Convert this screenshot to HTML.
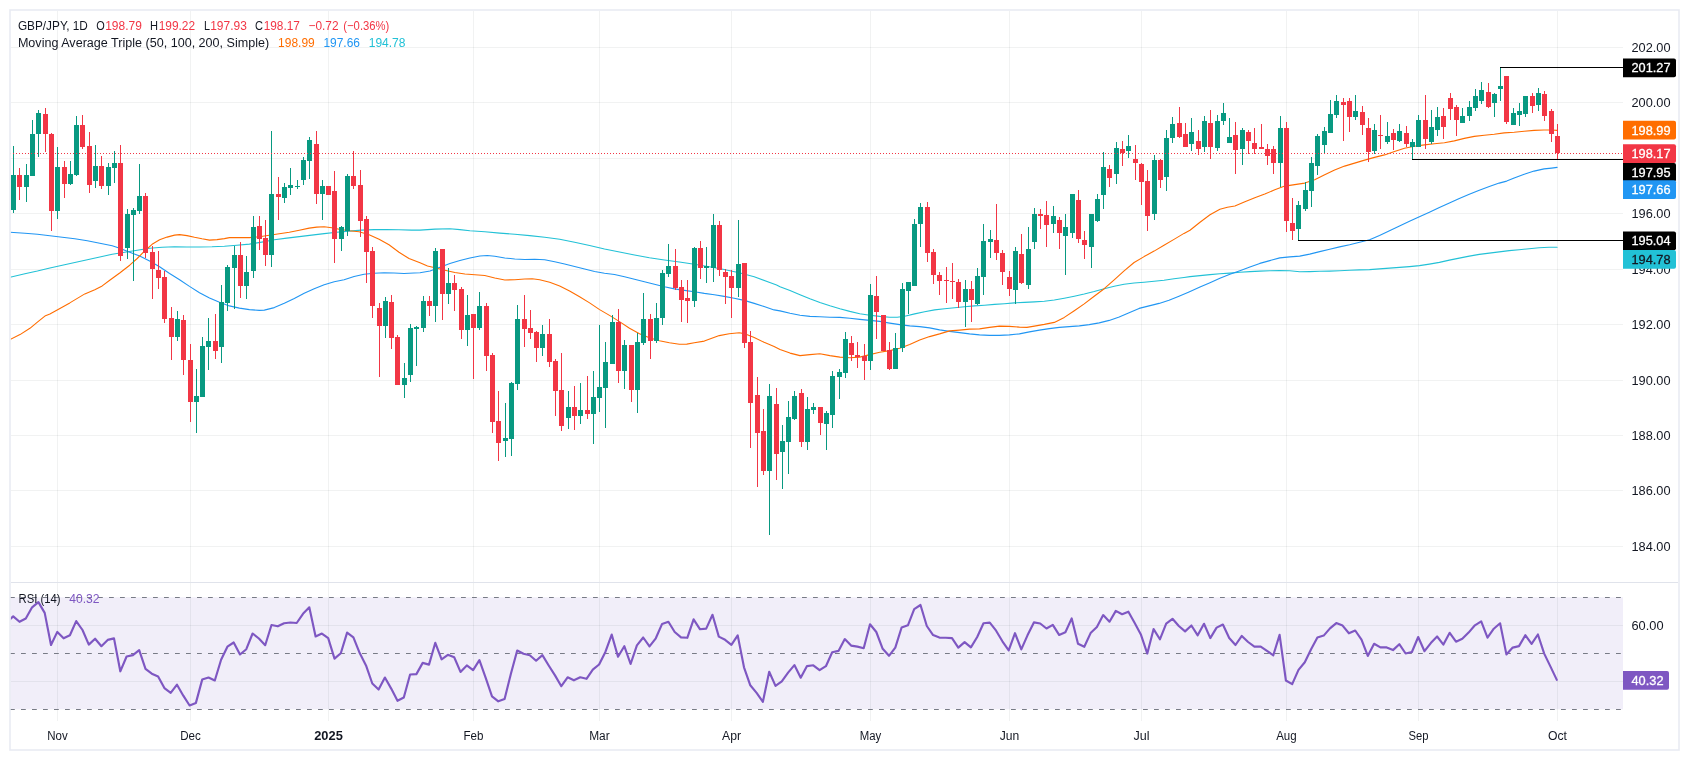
<!DOCTYPE html>
<html><head><meta charset="utf-8"><title>GBP/JPY</title>
<style>html,body{margin:0;padding:0;background:#fff;overflow:hidden}body{width:1689px;height:762px;font-family:"Liberation Sans",sans-serif}</style>
</head><body>
<svg width="1689" height="762" viewBox="0 0 1689 762" style="display:block;will-change:transform">
<rect x="0" y="0" width="1689" height="762" fill="#ffffff"/>
<rect x="10.5" y="597.3" width="1612.5" height="112.0" fill="#f1eef9"/>
<line x1="57.5" y1="11" x2="57.5" y2="721" stroke="#2a3639" stroke-opacity="0.065" stroke-width="1"/>
<line x1="190.5" y1="11" x2="190.5" y2="721" stroke="#2a3639" stroke-opacity="0.065" stroke-width="1"/>
<line x1="328.5" y1="11" x2="328.5" y2="721" stroke="#2a3639" stroke-opacity="0.065" stroke-width="1"/>
<line x1="473.5" y1="11" x2="473.5" y2="721" stroke="#2a3639" stroke-opacity="0.065" stroke-width="1"/>
<line x1="599.5" y1="11" x2="599.5" y2="721" stroke="#2a3639" stroke-opacity="0.065" stroke-width="1"/>
<line x1="731.5" y1="11" x2="731.5" y2="721" stroke="#2a3639" stroke-opacity="0.065" stroke-width="1"/>
<line x1="870.5" y1="11" x2="870.5" y2="721" stroke="#2a3639" stroke-opacity="0.065" stroke-width="1"/>
<line x1="1009.5" y1="11" x2="1009.5" y2="721" stroke="#2a3639" stroke-opacity="0.065" stroke-width="1"/>
<line x1="1141.5" y1="11" x2="1141.5" y2="721" stroke="#2a3639" stroke-opacity="0.065" stroke-width="1"/>
<line x1="1286.5" y1="11" x2="1286.5" y2="721" stroke="#2a3639" stroke-opacity="0.065" stroke-width="1"/>
<line x1="1418.5" y1="11" x2="1418.5" y2="721" stroke="#2a3639" stroke-opacity="0.065" stroke-width="1"/>
<line x1="1557.5" y1="11" x2="1557.5" y2="721" stroke="#2a3639" stroke-opacity="0.065" stroke-width="1"/>
<line x1="11" y1="546.5" x2="1623" y2="546.5" stroke="#2a3639" stroke-opacity="0.065" stroke-width="1"/>
<line x1="11" y1="490.5" x2="1623" y2="490.5" stroke="#2a3639" stroke-opacity="0.065" stroke-width="1"/>
<line x1="11" y1="435.5" x2="1623" y2="435.5" stroke="#2a3639" stroke-opacity="0.065" stroke-width="1"/>
<line x1="11" y1="380.5" x2="1623" y2="380.5" stroke="#2a3639" stroke-opacity="0.065" stroke-width="1"/>
<line x1="11" y1="324.5" x2="1623" y2="324.5" stroke="#2a3639" stroke-opacity="0.065" stroke-width="1"/>
<line x1="11" y1="269.5" x2="1623" y2="269.5" stroke="#2a3639" stroke-opacity="0.065" stroke-width="1"/>
<line x1="11" y1="213.5" x2="1623" y2="213.5" stroke="#2a3639" stroke-opacity="0.065" stroke-width="1"/>
<line x1="11" y1="158.5" x2="1623" y2="158.5" stroke="#2a3639" stroke-opacity="0.065" stroke-width="1"/>
<line x1="11" y1="102.5" x2="1623" y2="102.5" stroke="#2a3639" stroke-opacity="0.065" stroke-width="1"/>
<line x1="11" y1="47.5" x2="1623" y2="47.5" stroke="#2a3639" stroke-opacity="0.065" stroke-width="1"/>
<line x1="11" y1="681.5" x2="1623" y2="681.5" stroke="#2a3639" stroke-opacity="0.065" stroke-width="1"/>
<line x1="11" y1="625.5" x2="1623" y2="625.5" stroke="#2a3639" stroke-opacity="0.065" stroke-width="1"/>
<line x1="11" y1="582.5" x2="1678" y2="582.5" stroke="#e0e3eb" stroke-width="1"/>
<line x1="10" y1="597.5" x2="1623" y2="597.5" stroke="#787b86" stroke-width="1" stroke-dasharray="4.8 6.2"/>
<line x1="10" y1="653.5" x2="1623" y2="653.5" stroke="#787b86" stroke-width="1" stroke-dasharray="4.8 6.2"/>
<line x1="10" y1="709.5" x2="1623" y2="709.5" stroke="#787b86" stroke-width="1" stroke-dasharray="4.8 6.2"/>
<defs><clipPath id="pc"><rect x="10.5" y="10.5" width="1612.5" height="571.5"/></clipPath><clipPath id="rc"><rect x="10.5" y="583" width="1612.5" height="138"/></clipPath></defs>
<g clip-path="url(#pc)">
<path d="M10.0 277.2 L24.9 273.7 L37.4 271.0 L49.9 268.0 L62.3 265.2 L74.8 262.5 L87.3 259.8 L99.8 257.0 L112.2 254.3 L124.7 252.3 L137.2 250.3 L149.6 248.3 L162.1 247.3 L174.6 246.8 L187.0 247.0 L199.5 247.0 L212.0 246.8 L224.4 246.3 L236.9 245.3 L249.4 244.1 L261.8 242.1 L274.3 239.8 L286.8 238.1 L299.3 236.6 L311.7 235.1 L324.2 233.6 L336.7 232.3 L349.1 231.1 L361.6 230.1 L374.1 229.6 L386.5 229.6 L399.0 229.8 L411.5 230.1 L420.0 230.1 L435.0 229.1 L449.9 228.8 L459.9 229.6 L469.9 230.8 L484.8 231.8 L499.8 233.1 L514.8 234.3 L529.7 235.6 L544.7 237.3 L559.7 239.3 L574.6 242.3 L589.6 245.5 L604.5 249.0 L619.5 252.0 L634.5 255.0 L649.4 257.8 L664.4 260.0 L679.4 262.0 L694.3 264.3 L709.3 266.7 L724.2 269.5 L739.2 272.7 L754.2 276.7 L769.1 282.2 L776.6 285.0 L780.0 286.7 L790.0 290.5 L800.0 294.7 L809.9 298.7 L819.9 302.4 L829.9 305.7 L839.9 308.7 L849.8 311.4 L859.8 313.7 L869.8 315.2 L879.8 316.4 L889.7 317.2 L897.2 317.2 L904.7 316.2 L914.7 313.9 L924.6 311.7 L934.6 309.9 L944.6 308.7 L954.6 307.7 L964.5 306.7 L974.5 305.9 L984.5 305.2 L994.5 304.4 L1004.4 303.7 L1014.4 302.9 L1024.4 302.4 L1034.4 301.9 L1044.3 301.2 L1054.3 300.0 L1064.3 298.2 L1074.3 296.2 L1084.2 294.0 L1094.2 291.5 L1104.2 288.7 L1114.2 286.2 L1124.1 284.2 L1134.1 283.0 L1144.1 282.2 L1154.1 281.2 L1164.0 280.2 L1174.0 278.8 L1184.0 277.5 L1190.0 276.6 L1200.0 275.6 L1210.0 274.6 L1219.9 273.8 L1229.9 273.1 L1239.9 272.3 L1249.9 271.6 L1259.8 271.1 L1269.8 270.8 L1279.8 270.6 L1289.8 270.8 L1299.7 271.8 L1309.7 271.6 L1319.7 271.3 L1329.7 271.1 L1339.6 270.8 L1349.6 270.3 L1359.6 269.9 L1369.6 269.6 L1379.5 268.9 L1389.5 268.1 L1399.5 267.4 L1409.5 266.6 L1419.4 265.6 L1429.4 264.1 L1439.4 262.4 L1449.4 260.1 L1459.3 258.1 L1469.3 256.1 L1479.3 254.4 L1489.3 253.1 L1499.2 251.9 L1509.2 250.6 L1519.2 249.7 L1529.2 248.7 L1539.1 247.7 L1549.1 247.2 L1557.1 247.2" fill="none" stroke="#22c1d6" stroke-width="1.1" stroke-linejoin="round" stroke-linecap="round"/>
<path d="M10.0 232.3 L24.9 233.3 L37.4 234.3 L49.9 235.8 L62.3 237.3 L74.8 238.8 L87.3 240.8 L99.8 243.3 L112.2 245.8 L119.7 248.3 L129.7 252.3 L139.7 256.0 L149.6 261.0 L159.6 266.7 L169.6 273.5 L179.6 279.7 L189.5 286.4 L199.5 292.7 L209.5 297.9 L219.5 302.2 L229.4 305.9 L239.4 308.1 L249.4 309.6 L259.4 310.4 L264.3 310.1 L274.3 307.6 L284.3 303.2 L294.3 298.4 L304.2 293.2 L314.2 288.7 L324.2 284.7 L334.2 281.7 L344.1 279.7 L354.1 276.5 L364.1 274.2 L374.1 273.2 L384.0 272.7 L394.0 273.0 L404.0 273.5 L414.0 273.0 L420.0 272.7 L430.0 271.0 L440.0 267.2 L449.9 263.5 L459.9 260.5 L469.9 258.0 L479.9 256.0 L487.3 255.5 L494.8 256.3 L504.8 258.0 L514.8 259.0 L524.7 259.5 L534.7 259.3 L544.7 259.8 L554.7 261.8 L564.6 264.0 L574.6 266.5 L584.6 269.0 L594.6 271.5 L604.5 273.2 L614.5 274.5 L624.5 276.7 L634.5 279.2 L644.4 281.7 L654.4 284.2 L664.4 286.7 L674.4 288.9 L684.3 290.4 L694.3 291.7 L704.3 293.4 L714.3 294.7 L724.2 296.4 L734.2 298.2 L744.2 300.4 L754.2 303.4 L764.1 306.6 L774.1 309.9 L780.0 310.9 L790.0 313.2 L800.0 315.2 L809.9 316.4 L819.9 316.7 L829.9 317.2 L839.9 317.4 L849.8 318.2 L859.8 319.4 L869.8 320.4 L879.8 321.4 L889.7 323.1 L899.7 324.6 L909.7 325.9 L919.7 326.6 L929.6 327.9 L939.6 329.9 L949.6 331.4 L959.6 332.6 L969.5 333.9 L979.5 334.9 L989.5 335.4 L999.5 335.4 L1009.4 334.9 L1019.4 333.9 L1029.4 331.9 L1039.4 330.1 L1049.3 328.6 L1059.3 327.4 L1069.3 326.6 L1079.3 325.9 L1089.2 324.6 L1099.2 322.9 L1109.2 320.4 L1119.2 316.9 L1129.1 312.7 L1139.1 308.4 L1149.1 305.9 L1159.1 303.4 L1169.0 300.2 L1179.0 296.2 L1189.0 292.0 L1200.0 287.1 L1210.0 282.8 L1219.9 278.3 L1229.9 274.3 L1239.9 270.8 L1249.9 267.1 L1259.8 263.4 L1269.8 260.6 L1279.8 257.9 L1289.8 256.9 L1299.7 256.1 L1309.7 254.1 L1319.7 251.6 L1329.7 249.2 L1339.6 246.9 L1349.6 244.7 L1359.6 242.2 L1369.6 239.7 L1379.5 235.4 L1389.5 230.7 L1399.5 226.0 L1409.5 221.2 L1419.4 216.7 L1429.4 212.2 L1439.4 207.5 L1449.4 203.0 L1459.3 198.5 L1469.3 194.3 L1479.3 190.3 L1489.3 186.6 L1499.2 183.1 L1506.7 181.1 L1514.2 178.1 L1524.2 174.3 L1534.1 171.1 L1544.1 168.9 L1551.6 168.1 L1557.1 167.4" fill="none" stroke="#2196f3" stroke-width="1.1" stroke-linejoin="round" stroke-linecap="round"/>
<path d="M10.0 339.6 L20.0 334.6 L29.9 328.3 L37.4 322.1 L44.9 316.1 L49.9 314.1 L59.9 308.4 L69.8 302.9 L77.3 298.4 L84.8 293.9 L94.8 289.7 L102.2 285.9 L109.7 280.2 L119.7 273.0 L129.7 265.2 L137.2 258.5 L144.6 251.0 L152.1 244.3 L159.6 239.8 L167.1 237.1 L174.6 235.1 L179.6 234.6 L187.0 235.6 L194.5 237.3 L202.0 238.8 L209.5 240.1 L217.0 239.6 L224.4 238.6 L229.4 237.6 L239.4 237.6 L249.4 237.6 L259.4 236.8 L269.3 235.3 L279.3 233.8 L289.3 232.3 L299.3 230.3 L309.2 228.1 L316.7 227.1 L324.2 226.8 L331.7 227.8 L339.2 229.3 L349.1 230.8 L359.1 231.8 L369.1 234.8 L379.1 239.3 L389.0 244.8 L399.0 252.3 L409.0 258.5 L420.0 262.8 L427.5 266.0 L435.0 267.7 L444.9 270.2 L454.9 272.5 L464.9 274.0 L474.9 274.7 L484.8 275.5 L494.8 278.0 L504.8 280.0 L514.8 279.7 L524.7 279.0 L532.2 278.7 L539.7 279.7 L549.7 282.2 L559.7 285.9 L569.6 290.9 L579.6 296.7 L589.6 302.9 L599.6 309.6 L609.5 315.4 L619.5 321.6 L629.5 328.3 L639.5 333.8 L649.4 337.8 L659.4 340.8 L669.4 342.8 L679.4 344.3 L686.8 344.1 L694.3 342.8 L704.3 341.1 L711.8 338.3 L719.3 335.6 L729.2 333.8 L739.2 332.8 L744.2 333.6 L754.2 337.6 L764.1 342.3 L774.1 346.5 L780.0 349.6 L790.0 353.1 L800.0 355.6 L809.9 354.6 L819.9 353.8 L829.9 355.6 L839.9 357.1 L849.8 357.8 L859.8 357.1 L869.8 354.6 L879.8 352.3 L889.7 350.6 L899.7 348.3 L909.7 344.6 L919.7 340.1 L929.6 336.6 L939.6 333.9 L949.6 330.9 L959.6 330.1 L969.5 329.1 L979.5 328.9 L989.5 327.4 L999.5 326.1 L1009.4 326.4 L1019.4 327.1 L1026.9 327.4 L1034.4 326.1 L1044.3 324.4 L1054.3 322.4 L1064.3 317.4 L1074.3 310.7 L1084.2 303.9 L1094.2 296.2 L1104.2 288.7 L1114.2 279.8 L1124.1 270.8 L1134.1 262.5 L1144.1 256.6 L1154.1 251.1 L1164.0 245.3 L1174.0 239.4 L1184.0 233.4 L1190.0 230.2 L1200.0 222.2 L1210.0 214.7 L1219.9 209.3 L1227.4 207.3 L1234.9 206.0 L1244.9 201.8 L1254.8 197.8 L1264.8 194.0 L1274.8 189.8 L1284.8 186.1 L1294.7 184.6 L1304.7 183.1 L1314.7 179.8 L1324.7 174.8 L1334.6 169.9 L1344.6 166.1 L1354.6 163.1 L1364.6 160.1 L1374.5 157.4 L1384.5 154.9 L1394.5 151.6 L1404.5 148.2 L1414.4 146.2 L1424.4 144.9 L1434.4 143.7 L1444.4 142.7 L1454.3 140.9 L1464.3 138.4 L1474.3 136.4 L1484.3 135.2 L1494.2 134.2 L1504.2 132.9 L1514.2 132.2 L1524.2 131.2 L1534.1 130.4 L1544.1 130.0 L1551.6 130.0 L1557.1 130.4" fill="none" stroke="#ff6d00" stroke-width="1.1" stroke-linejoin="round" stroke-linecap="round"/>
<rect x="13" y="146" width="1" height="67" fill="#089981"/>
<rect x="11" y="175" width="5" height="35" fill="#089981"/>
<rect x="19" y="168" width="1" height="32" fill="#f23645"/>
<rect x="17" y="175" width="5" height="12" fill="#f23645"/>
<rect x="26" y="164" width="1" height="38" fill="#089981"/>
<rect x="24" y="175" width="5" height="12" fill="#089981"/>
<rect x="32" y="120" width="1" height="56" fill="#089981"/>
<rect x="30" y="134" width="5" height="42" fill="#089981"/>
<rect x="38" y="110" width="1" height="47" fill="#089981"/>
<rect x="36" y="113" width="5" height="21" fill="#089981"/>
<rect x="45" y="108" width="1" height="44" fill="#f23645"/>
<rect x="43" y="114" width="5" height="20" fill="#f23645"/>
<rect x="51" y="133" width="1" height="98" fill="#f23645"/>
<rect x="49" y="134" width="5" height="77" fill="#f23645"/>
<rect x="57" y="147" width="1" height="72" fill="#089981"/>
<rect x="55" y="167" width="5" height="44" fill="#089981"/>
<rect x="64" y="161" width="1" height="37" fill="#f23645"/>
<rect x="62" y="167" width="5" height="17" fill="#f23645"/>
<rect x="70" y="161" width="1" height="24" fill="#089981"/>
<rect x="68" y="174" width="5" height="10" fill="#089981"/>
<rect x="76" y="116" width="1" height="60" fill="#089981"/>
<rect x="74" y="125" width="5" height="50" fill="#089981"/>
<rect x="82" y="115" width="1" height="34" fill="#f23645"/>
<rect x="80" y="125" width="5" height="22" fill="#f23645"/>
<rect x="89" y="132" width="1" height="61" fill="#f23645"/>
<rect x="87" y="146" width="5" height="39" fill="#f23645"/>
<rect x="95" y="145" width="1" height="43" fill="#089981"/>
<rect x="93" y="166" width="5" height="15" fill="#089981"/>
<rect x="101" y="156" width="1" height="33" fill="#f23645"/>
<rect x="99" y="166" width="5" height="20" fill="#f23645"/>
<rect x="108" y="163" width="1" height="32" fill="#089981"/>
<rect x="106" y="167" width="5" height="19" fill="#089981"/>
<rect x="114" y="151" width="1" height="32" fill="#089981"/>
<rect x="112" y="163" width="5" height="5" fill="#089981"/>
<rect x="120" y="145" width="1" height="116" fill="#f23645"/>
<rect x="118" y="163" width="5" height="93" fill="#f23645"/>
<rect x="127" y="209" width="1" height="50" fill="#089981"/>
<rect x="125" y="214" width="5" height="34" fill="#089981"/>
<rect x="133" y="208" width="1" height="73" fill="#089981"/>
<rect x="131" y="210" width="5" height="5" fill="#089981"/>
<rect x="139" y="164" width="1" height="50" fill="#089981"/>
<rect x="137" y="196" width="5" height="15" fill="#089981"/>
<rect x="145" y="193" width="1" height="65" fill="#f23645"/>
<rect x="143" y="196" width="5" height="57" fill="#f23645"/>
<rect x="152" y="246" width="1" height="53" fill="#f23645"/>
<rect x="150" y="252" width="5" height="17" fill="#f23645"/>
<rect x="158" y="251" width="1" height="38" fill="#f23645"/>
<rect x="156" y="270" width="5" height="8" fill="#f23645"/>
<rect x="164" y="271" width="1" height="52" fill="#f23645"/>
<rect x="162" y="277" width="5" height="42" fill="#f23645"/>
<rect x="171" y="307" width="1" height="53" fill="#f23645"/>
<rect x="169" y="318" width="5" height="19" fill="#f23645"/>
<rect x="177" y="311" width="1" height="30" fill="#089981"/>
<rect x="175" y="319" width="5" height="18" fill="#089981"/>
<rect x="183" y="315" width="1" height="60" fill="#f23645"/>
<rect x="181" y="320" width="5" height="40" fill="#f23645"/>
<rect x="190" y="344" width="1" height="78" fill="#f23645"/>
<rect x="188" y="360" width="5" height="42" fill="#f23645"/>
<rect x="196" y="369" width="1" height="64" fill="#089981"/>
<rect x="194" y="396" width="5" height="6" fill="#089981"/>
<rect x="202" y="337" width="1" height="60" fill="#089981"/>
<rect x="200" y="346" width="5" height="51" fill="#089981"/>
<rect x="208" y="318" width="1" height="52" fill="#089981"/>
<rect x="206" y="341" width="5" height="6" fill="#089981"/>
<rect x="215" y="314" width="1" height="45" fill="#f23645"/>
<rect x="213" y="341" width="5" height="10" fill="#f23645"/>
<rect x="221" y="285" width="1" height="78" fill="#089981"/>
<rect x="219" y="302" width="5" height="45" fill="#089981"/>
<rect x="227" y="265" width="1" height="46" fill="#089981"/>
<rect x="225" y="267" width="5" height="36" fill="#089981"/>
<rect x="234" y="246" width="1" height="63" fill="#089981"/>
<rect x="232" y="255" width="5" height="13" fill="#089981"/>
<rect x="240" y="242" width="1" height="56" fill="#f23645"/>
<rect x="238" y="255" width="5" height="31" fill="#f23645"/>
<rect x="246" y="256" width="1" height="43" fill="#089981"/>
<rect x="244" y="272" width="5" height="14" fill="#089981"/>
<rect x="253" y="216" width="1" height="62" fill="#089981"/>
<rect x="251" y="227" width="5" height="44" fill="#089981"/>
<rect x="259" y="216" width="1" height="34" fill="#f23645"/>
<rect x="257" y="226" width="5" height="13" fill="#f23645"/>
<rect x="265" y="220" width="1" height="46" fill="#f23645"/>
<rect x="263" y="238" width="5" height="17" fill="#f23645"/>
<rect x="271" y="131" width="1" height="136" fill="#089981"/>
<rect x="269" y="194" width="5" height="61" fill="#089981"/>
<rect x="278" y="177" width="1" height="43" fill="#f23645"/>
<rect x="276" y="194" width="5" height="3" fill="#f23645"/>
<rect x="284" y="183" width="1" height="20" fill="#089981"/>
<rect x="282" y="187" width="5" height="11" fill="#089981"/>
<rect x="290" y="168" width="1" height="27" fill="#089981"/>
<rect x="288" y="185" width="5" height="3" fill="#089981"/>
<rect x="297" y="180" width="1" height="9" fill="#089981"/>
<rect x="295" y="186" width="5" height="1" fill="#089981"/>
<rect x="303" y="157" width="1" height="28" fill="#089981"/>
<rect x="301" y="160" width="5" height="20" fill="#089981"/>
<rect x="309" y="137" width="1" height="42" fill="#089981"/>
<rect x="307" y="140" width="5" height="21" fill="#089981"/>
<rect x="316" y="131" width="1" height="73" fill="#f23645"/>
<rect x="314" y="144" width="5" height="50" fill="#f23645"/>
<rect x="322" y="180" width="1" height="40" fill="#089981"/>
<rect x="320" y="186" width="5" height="8" fill="#089981"/>
<rect x="328" y="186" width="1" height="9" fill="#f23645"/>
<rect x="326" y="186" width="5" height="9" fill="#f23645"/>
<rect x="334" y="171" width="1" height="92" fill="#f23645"/>
<rect x="332" y="191" width="5" height="48" fill="#f23645"/>
<rect x="341" y="226" width="1" height="25" fill="#089981"/>
<rect x="339" y="227" width="5" height="12" fill="#089981"/>
<rect x="347" y="174" width="1" height="62" fill="#089981"/>
<rect x="345" y="176" width="5" height="55" fill="#089981"/>
<rect x="353" y="151" width="1" height="38" fill="#f23645"/>
<rect x="351" y="176" width="5" height="10" fill="#f23645"/>
<rect x="360" y="170" width="1" height="67" fill="#f23645"/>
<rect x="358" y="185" width="5" height="36" fill="#f23645"/>
<rect x="366" y="216" width="1" height="67" fill="#f23645"/>
<rect x="364" y="219" width="5" height="33" fill="#f23645"/>
<rect x="372" y="247" width="1" height="71" fill="#f23645"/>
<rect x="370" y="251" width="5" height="55" fill="#f23645"/>
<rect x="379" y="303" width="1" height="74" fill="#f23645"/>
<rect x="377" y="308" width="5" height="18" fill="#f23645"/>
<rect x="385" y="297" width="1" height="41" fill="#089981"/>
<rect x="383" y="301" width="5" height="25" fill="#089981"/>
<rect x="391" y="295" width="1" height="54" fill="#f23645"/>
<rect x="389" y="302" width="5" height="36" fill="#f23645"/>
<rect x="397" y="335" width="1" height="50" fill="#f23645"/>
<rect x="395" y="337" width="5" height="48" fill="#f23645"/>
<rect x="404" y="363" width="1" height="35" fill="#089981"/>
<rect x="402" y="378" width="5" height="7" fill="#089981"/>
<rect x="410" y="324" width="1" height="58" fill="#089981"/>
<rect x="408" y="328" width="5" height="47" fill="#089981"/>
<rect x="416" y="326" width="1" height="40" fill="#089981"/>
<rect x="414" y="327" width="5" height="2" fill="#089981"/>
<rect x="423" y="296" width="1" height="36" fill="#089981"/>
<rect x="421" y="301" width="5" height="27" fill="#089981"/>
<rect x="429" y="296" width="1" height="20" fill="#f23645"/>
<rect x="427" y="301" width="5" height="5" fill="#f23645"/>
<rect x="435" y="248" width="1" height="74" fill="#089981"/>
<rect x="433" y="251" width="5" height="55" fill="#089981"/>
<rect x="442" y="249" width="1" height="71" fill="#f23645"/>
<rect x="440" y="249" width="5" height="45" fill="#f23645"/>
<rect x="448" y="268" width="1" height="36" fill="#089981"/>
<rect x="446" y="283" width="5" height="11" fill="#089981"/>
<rect x="454" y="275" width="1" height="36" fill="#f23645"/>
<rect x="452" y="283" width="5" height="7" fill="#f23645"/>
<rect x="461" y="287" width="1" height="52" fill="#f23645"/>
<rect x="459" y="289" width="5" height="41" fill="#f23645"/>
<rect x="467" y="295" width="1" height="51" fill="#089981"/>
<rect x="465" y="315" width="5" height="15" fill="#089981"/>
<rect x="473" y="314" width="1" height="65" fill="#f23645"/>
<rect x="471" y="314" width="5" height="14" fill="#f23645"/>
<rect x="479" y="292" width="1" height="38" fill="#089981"/>
<rect x="477" y="306" width="5" height="22" fill="#089981"/>
<rect x="486" y="303" width="1" height="68" fill="#f23645"/>
<rect x="484" y="306" width="5" height="50" fill="#f23645"/>
<rect x="492" y="353" width="1" height="80" fill="#f23645"/>
<rect x="490" y="355" width="5" height="67" fill="#f23645"/>
<rect x="498" y="391" width="1" height="70" fill="#f23645"/>
<rect x="496" y="421" width="5" height="22" fill="#f23645"/>
<rect x="505" y="403" width="1" height="54" fill="#089981"/>
<rect x="503" y="438" width="5" height="3" fill="#089981"/>
<rect x="511" y="382" width="1" height="74" fill="#089981"/>
<rect x="509" y="383" width="5" height="56" fill="#089981"/>
<rect x="517" y="305" width="1" height="85" fill="#089981"/>
<rect x="515" y="319" width="5" height="65" fill="#089981"/>
<rect x="524" y="295" width="1" height="52" fill="#f23645"/>
<rect x="522" y="319" width="5" height="10" fill="#f23645"/>
<rect x="530" y="310" width="1" height="29" fill="#f23645"/>
<rect x="528" y="328" width="5" height="5" fill="#f23645"/>
<rect x="536" y="331" width="1" height="31" fill="#f23645"/>
<rect x="534" y="332" width="5" height="16" fill="#f23645"/>
<rect x="542" y="325" width="1" height="31" fill="#089981"/>
<rect x="540" y="334" width="5" height="14" fill="#089981"/>
<rect x="549" y="319" width="1" height="48" fill="#f23645"/>
<rect x="547" y="334" width="5" height="28" fill="#f23645"/>
<rect x="555" y="359" width="1" height="57" fill="#f23645"/>
<rect x="553" y="361" width="5" height="30" fill="#f23645"/>
<rect x="561" y="353" width="1" height="78" fill="#f23645"/>
<rect x="559" y="390" width="5" height="36" fill="#f23645"/>
<rect x="568" y="391" width="1" height="38" fill="#089981"/>
<rect x="566" y="407" width="5" height="11" fill="#089981"/>
<rect x="574" y="386" width="1" height="44" fill="#f23645"/>
<rect x="572" y="407" width="5" height="9" fill="#f23645"/>
<rect x="580" y="383" width="1" height="41" fill="#089981"/>
<rect x="578" y="410" width="5" height="6" fill="#089981"/>
<rect x="587" y="376" width="1" height="43" fill="#f23645"/>
<rect x="585" y="410" width="5" height="4" fill="#f23645"/>
<rect x="593" y="371" width="1" height="73" fill="#089981"/>
<rect x="591" y="397" width="5" height="17" fill="#089981"/>
<rect x="599" y="325" width="1" height="87" fill="#089981"/>
<rect x="597" y="387" width="5" height="11" fill="#089981"/>
<rect x="605" y="342" width="1" height="86" fill="#089981"/>
<rect x="603" y="362" width="5" height="26" fill="#089981"/>
<rect x="612" y="315" width="1" height="49" fill="#089981"/>
<rect x="610" y="322" width="5" height="42" fill="#089981"/>
<rect x="618" y="309" width="1" height="74" fill="#f23645"/>
<rect x="616" y="322" width="5" height="49" fill="#f23645"/>
<rect x="624" y="340" width="1" height="49" fill="#089981"/>
<rect x="622" y="345" width="5" height="26" fill="#089981"/>
<rect x="631" y="345" width="1" height="57" fill="#f23645"/>
<rect x="629" y="345" width="5" height="45" fill="#f23645"/>
<rect x="637" y="333" width="1" height="80" fill="#089981"/>
<rect x="635" y="342" width="5" height="48" fill="#089981"/>
<rect x="643" y="293" width="1" height="52" fill="#089981"/>
<rect x="641" y="319" width="5" height="24" fill="#089981"/>
<rect x="650" y="314" width="1" height="45" fill="#f23645"/>
<rect x="648" y="319" width="5" height="22" fill="#f23645"/>
<rect x="656" y="303" width="1" height="40" fill="#089981"/>
<rect x="654" y="318" width="5" height="23" fill="#089981"/>
<rect x="662" y="270" width="1" height="55" fill="#089981"/>
<rect x="660" y="273" width="5" height="45" fill="#089981"/>
<rect x="668" y="244" width="1" height="33" fill="#089981"/>
<rect x="666" y="266" width="5" height="8" fill="#089981"/>
<rect x="675" y="249" width="1" height="41" fill="#f23645"/>
<rect x="673" y="266" width="5" height="22" fill="#f23645"/>
<rect x="681" y="280" width="1" height="42" fill="#f23645"/>
<rect x="679" y="287" width="5" height="13" fill="#f23645"/>
<rect x="687" y="280" width="1" height="43" fill="#f23645"/>
<rect x="685" y="298" width="5" height="3" fill="#f23645"/>
<rect x="694" y="247" width="1" height="60" fill="#089981"/>
<rect x="692" y="248" width="5" height="53" fill="#089981"/>
<rect x="700" y="241" width="1" height="38" fill="#f23645"/>
<rect x="698" y="248" width="5" height="20" fill="#f23645"/>
<rect x="706" y="247" width="1" height="36" fill="#089981"/>
<rect x="704" y="266" width="5" height="2" fill="#089981"/>
<rect x="713" y="214" width="1" height="68" fill="#089981"/>
<rect x="711" y="225" width="5" height="43" fill="#089981"/>
<rect x="719" y="221" width="1" height="55" fill="#f23645"/>
<rect x="717" y="225" width="5" height="45" fill="#f23645"/>
<rect x="725" y="269" width="1" height="35" fill="#f23645"/>
<rect x="723" y="272" width="5" height="5" fill="#f23645"/>
<rect x="731" y="270" width="1" height="48" fill="#f23645"/>
<rect x="729" y="276" width="5" height="12" fill="#f23645"/>
<rect x="738" y="220" width="1" height="77" fill="#089981"/>
<rect x="736" y="264" width="5" height="24" fill="#089981"/>
<rect x="744" y="263" width="1" height="85" fill="#f23645"/>
<rect x="742" y="263" width="5" height="80" fill="#f23645"/>
<rect x="750" y="331" width="1" height="117" fill="#f23645"/>
<rect x="748" y="342" width="5" height="61" fill="#f23645"/>
<rect x="757" y="377" width="1" height="110" fill="#f23645"/>
<rect x="755" y="395" width="5" height="38" fill="#f23645"/>
<rect x="763" y="409" width="1" height="66" fill="#f23645"/>
<rect x="761" y="431" width="5" height="40" fill="#f23645"/>
<rect x="769" y="384" width="1" height="151" fill="#089981"/>
<rect x="767" y="396" width="5" height="75" fill="#089981"/>
<rect x="776" y="388" width="1" height="92" fill="#f23645"/>
<rect x="774" y="404" width="5" height="50" fill="#f23645"/>
<rect x="782" y="425" width="1" height="64" fill="#089981"/>
<rect x="780" y="441" width="5" height="11" fill="#089981"/>
<rect x="788" y="401" width="1" height="73" fill="#089981"/>
<rect x="786" y="417" width="5" height="25" fill="#089981"/>
<rect x="794" y="391" width="1" height="29" fill="#089981"/>
<rect x="792" y="396" width="5" height="23" fill="#089981"/>
<rect x="801" y="389" width="1" height="58" fill="#f23645"/>
<rect x="799" y="393" width="5" height="49" fill="#f23645"/>
<rect x="807" y="397" width="1" height="53" fill="#089981"/>
<rect x="805" y="409" width="5" height="33" fill="#089981"/>
<rect x="813" y="403" width="1" height="11" fill="#089981"/>
<rect x="811" y="407" width="5" height="3" fill="#089981"/>
<rect x="820" y="407" width="1" height="28" fill="#f23645"/>
<rect x="818" y="407" width="5" height="16" fill="#f23645"/>
<rect x="826" y="411" width="1" height="39" fill="#089981"/>
<rect x="824" y="413" width="5" height="11" fill="#089981"/>
<rect x="832" y="371" width="1" height="57" fill="#089981"/>
<rect x="830" y="376" width="5" height="39" fill="#089981"/>
<rect x="839" y="369" width="1" height="30" fill="#089981"/>
<rect x="837" y="372" width="5" height="5" fill="#089981"/>
<rect x="845" y="332" width="1" height="46" fill="#089981"/>
<rect x="843" y="339" width="5" height="34" fill="#089981"/>
<rect x="851" y="336" width="1" height="25" fill="#f23645"/>
<rect x="849" y="343" width="5" height="12" fill="#f23645"/>
<rect x="857" y="342" width="1" height="26" fill="#f23645"/>
<rect x="855" y="355" width="5" height="2" fill="#f23645"/>
<rect x="864" y="344" width="1" height="36" fill="#f23645"/>
<rect x="862" y="356" width="5" height="5" fill="#f23645"/>
<rect x="870" y="284" width="1" height="86" fill="#089981"/>
<rect x="868" y="295" width="5" height="66" fill="#089981"/>
<rect x="876" y="276" width="1" height="63" fill="#f23645"/>
<rect x="874" y="296" width="5" height="16" fill="#f23645"/>
<rect x="883" y="315" width="1" height="36" fill="#f23645"/>
<rect x="881" y="315" width="5" height="36" fill="#f23645"/>
<rect x="889" y="342" width="1" height="28" fill="#f23645"/>
<rect x="887" y="350" width="5" height="19" fill="#f23645"/>
<rect x="895" y="333" width="1" height="36" fill="#089981"/>
<rect x="893" y="348" width="5" height="21" fill="#089981"/>
<rect x="902" y="283" width="1" height="69" fill="#089981"/>
<rect x="900" y="289" width="5" height="59" fill="#089981"/>
<rect x="908" y="282" width="1" height="32" fill="#089981"/>
<rect x="906" y="282" width="5" height="9" fill="#089981"/>
<rect x="914" y="219" width="1" height="67" fill="#089981"/>
<rect x="912" y="224" width="5" height="62" fill="#089981"/>
<rect x="920" y="203" width="1" height="44" fill="#089981"/>
<rect x="918" y="207" width="5" height="17" fill="#089981"/>
<rect x="927" y="202" width="1" height="60" fill="#f23645"/>
<rect x="925" y="207" width="5" height="46" fill="#f23645"/>
<rect x="933" y="249" width="1" height="35" fill="#f23645"/>
<rect x="931" y="252" width="5" height="23" fill="#f23645"/>
<rect x="939" y="272" width="1" height="23" fill="#f23645"/>
<rect x="937" y="275" width="5" height="6" fill="#f23645"/>
<rect x="946" y="267" width="1" height="36" fill="#f23645"/>
<rect x="944" y="280" width="5" height="1" fill="#f23645"/>
<rect x="952" y="263" width="1" height="36" fill="#f23645"/>
<rect x="950" y="281" width="5" height="1" fill="#f23645"/>
<rect x="958" y="279" width="1" height="29" fill="#f23645"/>
<rect x="956" y="282" width="5" height="20" fill="#f23645"/>
<rect x="965" y="280" width="1" height="47" fill="#089981"/>
<rect x="963" y="289" width="5" height="13" fill="#089981"/>
<rect x="971" y="281" width="1" height="41" fill="#f23645"/>
<rect x="969" y="289" width="5" height="11" fill="#f23645"/>
<rect x="977" y="268" width="1" height="37" fill="#089981"/>
<rect x="975" y="276" width="5" height="28" fill="#089981"/>
<rect x="983" y="224" width="1" height="71" fill="#089981"/>
<rect x="981" y="241" width="5" height="36" fill="#089981"/>
<rect x="990" y="230" width="1" height="28" fill="#089981"/>
<rect x="988" y="239" width="5" height="3" fill="#089981"/>
<rect x="996" y="204" width="1" height="56" fill="#f23645"/>
<rect x="994" y="240" width="5" height="13" fill="#f23645"/>
<rect x="1002" y="250" width="1" height="35" fill="#f23645"/>
<rect x="1000" y="253" width="5" height="19" fill="#f23645"/>
<rect x="1009" y="271" width="1" height="25" fill="#f23645"/>
<rect x="1007" y="277" width="5" height="12" fill="#f23645"/>
<rect x="1015" y="247" width="1" height="57" fill="#089981"/>
<rect x="1013" y="251" width="5" height="39" fill="#089981"/>
<rect x="1021" y="234" width="1" height="50" fill="#f23645"/>
<rect x="1019" y="254" width="5" height="29" fill="#f23645"/>
<rect x="1028" y="227" width="1" height="62" fill="#089981"/>
<rect x="1026" y="249" width="5" height="36" fill="#089981"/>
<rect x="1034" y="208" width="1" height="41" fill="#089981"/>
<rect x="1032" y="214" width="5" height="28" fill="#089981"/>
<rect x="1040" y="209" width="1" height="20" fill="#f23645"/>
<rect x="1038" y="214" width="5" height="2" fill="#f23645"/>
<rect x="1046" y="201" width="1" height="46" fill="#f23645"/>
<rect x="1044" y="215" width="5" height="10" fill="#f23645"/>
<rect x="1053" y="206" width="1" height="27" fill="#089981"/>
<rect x="1051" y="216" width="5" height="8" fill="#089981"/>
<rect x="1059" y="217" width="1" height="32" fill="#f23645"/>
<rect x="1057" y="220" width="5" height="13" fill="#f23645"/>
<rect x="1065" y="214" width="1" height="61" fill="#089981"/>
<rect x="1063" y="227" width="5" height="9" fill="#089981"/>
<rect x="1072" y="194" width="1" height="44" fill="#089981"/>
<rect x="1070" y="194" width="5" height="39" fill="#089981"/>
<rect x="1078" y="190" width="1" height="53" fill="#f23645"/>
<rect x="1076" y="200" width="5" height="39" fill="#f23645"/>
<rect x="1084" y="231" width="1" height="28" fill="#f23645"/>
<rect x="1082" y="240" width="5" height="5" fill="#f23645"/>
<rect x="1091" y="214" width="1" height="54" fill="#089981"/>
<rect x="1089" y="214" width="5" height="33" fill="#089981"/>
<rect x="1097" y="194" width="1" height="28" fill="#089981"/>
<rect x="1095" y="199" width="5" height="22" fill="#089981"/>
<rect x="1103" y="152" width="1" height="57" fill="#089981"/>
<rect x="1101" y="167" width="5" height="28" fill="#089981"/>
<rect x="1109" y="165" width="1" height="22" fill="#f23645"/>
<rect x="1107" y="169" width="5" height="9" fill="#f23645"/>
<rect x="1116" y="142" width="1" height="42" fill="#089981"/>
<rect x="1114" y="148" width="5" height="26" fill="#089981"/>
<rect x="1122" y="141" width="1" height="25" fill="#f23645"/>
<rect x="1120" y="149" width="5" height="4" fill="#f23645"/>
<rect x="1128" y="135" width="1" height="23" fill="#089981"/>
<rect x="1126" y="146" width="5" height="5" fill="#089981"/>
<rect x="1135" y="145" width="1" height="35" fill="#f23645"/>
<rect x="1133" y="159" width="5" height="4" fill="#f23645"/>
<rect x="1141" y="163" width="1" height="42" fill="#f23645"/>
<rect x="1139" y="164" width="5" height="18" fill="#f23645"/>
<rect x="1147" y="170" width="1" height="61" fill="#f23645"/>
<rect x="1145" y="181" width="5" height="35" fill="#f23645"/>
<rect x="1154" y="155" width="1" height="65" fill="#089981"/>
<rect x="1152" y="160" width="5" height="54" fill="#089981"/>
<rect x="1160" y="159" width="1" height="29" fill="#f23645"/>
<rect x="1158" y="160" width="5" height="20" fill="#f23645"/>
<rect x="1166" y="130" width="1" height="61" fill="#089981"/>
<rect x="1164" y="138" width="5" height="39" fill="#089981"/>
<rect x="1172" y="117" width="1" height="26" fill="#089981"/>
<rect x="1170" y="124" width="5" height="14" fill="#089981"/>
<rect x="1179" y="107" width="1" height="31" fill="#f23645"/>
<rect x="1177" y="123" width="5" height="14" fill="#f23645"/>
<rect x="1185" y="123" width="1" height="24" fill="#f23645"/>
<rect x="1183" y="134" width="5" height="13" fill="#f23645"/>
<rect x="1191" y="118" width="1" height="33" fill="#089981"/>
<rect x="1189" y="132" width="5" height="12" fill="#089981"/>
<rect x="1198" y="130" width="1" height="25" fill="#f23645"/>
<rect x="1196" y="141" width="5" height="8" fill="#f23645"/>
<rect x="1204" y="116" width="1" height="36" fill="#089981"/>
<rect x="1202" y="121" width="5" height="26" fill="#089981"/>
<rect x="1210" y="110" width="1" height="49" fill="#f23645"/>
<rect x="1208" y="123" width="5" height="24" fill="#f23645"/>
<rect x="1217" y="115" width="1" height="36" fill="#089981"/>
<rect x="1215" y="121" width="5" height="27" fill="#089981"/>
<rect x="1223" y="103" width="1" height="22" fill="#089981"/>
<rect x="1221" y="113" width="5" height="8" fill="#089981"/>
<rect x="1229" y="118" width="1" height="25" fill="#089981"/>
<rect x="1227" y="137" width="5" height="6" fill="#089981"/>
<rect x="1235" y="122" width="1" height="52" fill="#f23645"/>
<rect x="1233" y="135" width="5" height="15" fill="#f23645"/>
<rect x="1242" y="128" width="1" height="37" fill="#089981"/>
<rect x="1240" y="130" width="5" height="19" fill="#089981"/>
<rect x="1248" y="130" width="1" height="24" fill="#f23645"/>
<rect x="1246" y="132" width="5" height="9" fill="#f23645"/>
<rect x="1254" y="128" width="1" height="26" fill="#f23645"/>
<rect x="1252" y="143" width="5" height="6" fill="#f23645"/>
<rect x="1261" y="124" width="1" height="25" fill="#f23645"/>
<rect x="1259" y="147" width="5" height="2" fill="#f23645"/>
<rect x="1267" y="144" width="1" height="21" fill="#f23645"/>
<rect x="1265" y="149" width="5" height="7" fill="#f23645"/>
<rect x="1273" y="146" width="1" height="28" fill="#f23645"/>
<rect x="1271" y="149" width="5" height="14" fill="#f23645"/>
<rect x="1280" y="116" width="1" height="71" fill="#089981"/>
<rect x="1278" y="128" width="5" height="35" fill="#089981"/>
<rect x="1286" y="122" width="1" height="110" fill="#f23645"/>
<rect x="1284" y="128" width="5" height="93" fill="#f23645"/>
<rect x="1292" y="198" width="1" height="42" fill="#f23645"/>
<rect x="1290" y="223" width="5" height="8" fill="#f23645"/>
<rect x="1298" y="201" width="1" height="39" fill="#089981"/>
<rect x="1296" y="205" width="5" height="24" fill="#089981"/>
<rect x="1305" y="182" width="1" height="29" fill="#089981"/>
<rect x="1303" y="190" width="5" height="19" fill="#089981"/>
<rect x="1311" y="157" width="1" height="50" fill="#089981"/>
<rect x="1309" y="163" width="5" height="28" fill="#089981"/>
<rect x="1317" y="134" width="1" height="41" fill="#089981"/>
<rect x="1315" y="136" width="5" height="30" fill="#089981"/>
<rect x="1324" y="127" width="1" height="27" fill="#089981"/>
<rect x="1322" y="131" width="5" height="14" fill="#089981"/>
<rect x="1330" y="100" width="1" height="33" fill="#089981"/>
<rect x="1328" y="114" width="5" height="19" fill="#089981"/>
<rect x="1336" y="95" width="1" height="23" fill="#089981"/>
<rect x="1334" y="101" width="5" height="14" fill="#089981"/>
<rect x="1343" y="98" width="1" height="43" fill="#f23645"/>
<rect x="1341" y="102" width="5" height="3" fill="#f23645"/>
<rect x="1349" y="98" width="1" height="34" fill="#f23645"/>
<rect x="1347" y="101" width="5" height="16" fill="#f23645"/>
<rect x="1355" y="95" width="1" height="25" fill="#089981"/>
<rect x="1353" y="111" width="5" height="6" fill="#089981"/>
<rect x="1362" y="106" width="1" height="29" fill="#f23645"/>
<rect x="1360" y="112" width="5" height="13" fill="#f23645"/>
<rect x="1368" y="118" width="1" height="44" fill="#f23645"/>
<rect x="1366" y="128" width="5" height="24" fill="#f23645"/>
<rect x="1374" y="124" width="1" height="30" fill="#089981"/>
<rect x="1372" y="130" width="5" height="21" fill="#089981"/>
<rect x="1380" y="115" width="1" height="34" fill="#f23645"/>
<rect x="1378" y="135" width="5" height="1" fill="#f23645"/>
<rect x="1387" y="122" width="1" height="22" fill="#089981"/>
<rect x="1385" y="136" width="5" height="6" fill="#089981"/>
<rect x="1393" y="129" width="1" height="21" fill="#f23645"/>
<rect x="1391" y="133" width="5" height="7" fill="#f23645"/>
<rect x="1399" y="124" width="1" height="18" fill="#089981"/>
<rect x="1397" y="131" width="5" height="10" fill="#089981"/>
<rect x="1406" y="126" width="1" height="21" fill="#f23645"/>
<rect x="1404" y="133" width="5" height="11" fill="#f23645"/>
<rect x="1412" y="139" width="1" height="20" fill="#089981"/>
<rect x="1410" y="142" width="5" height="5" fill="#089981"/>
<rect x="1418" y="115" width="1" height="32" fill="#089981"/>
<rect x="1416" y="120" width="5" height="27" fill="#089981"/>
<rect x="1425" y="95" width="1" height="54" fill="#f23645"/>
<rect x="1423" y="120" width="5" height="19" fill="#f23645"/>
<rect x="1431" y="110" width="1" height="34" fill="#089981"/>
<rect x="1429" y="127" width="5" height="15" fill="#089981"/>
<rect x="1437" y="107" width="1" height="29" fill="#089981"/>
<rect x="1435" y="117" width="5" height="13" fill="#089981"/>
<rect x="1443" y="108" width="1" height="31" fill="#f23645"/>
<rect x="1441" y="116" width="5" height="11" fill="#f23645"/>
<rect x="1450" y="93" width="1" height="27" fill="#f23645"/>
<rect x="1448" y="98" width="5" height="11" fill="#f23645"/>
<rect x="1456" y="105" width="1" height="31" fill="#f23645"/>
<rect x="1454" y="107" width="5" height="13" fill="#f23645"/>
<rect x="1462" y="108" width="1" height="15" fill="#089981"/>
<rect x="1460" y="116" width="5" height="7" fill="#089981"/>
<rect x="1469" y="101" width="1" height="20" fill="#089981"/>
<rect x="1467" y="107" width="5" height="9" fill="#089981"/>
<rect x="1475" y="89" width="1" height="22" fill="#089981"/>
<rect x="1473" y="96" width="5" height="12" fill="#089981"/>
<rect x="1481" y="82" width="1" height="22" fill="#089981"/>
<rect x="1479" y="90" width="5" height="11" fill="#089981"/>
<rect x="1488" y="83" width="1" height="25" fill="#f23645"/>
<rect x="1486" y="92" width="5" height="15" fill="#f23645"/>
<rect x="1494" y="93" width="1" height="24" fill="#089981"/>
<rect x="1492" y="94" width="5" height="9" fill="#089981"/>
<rect x="1500" y="67" width="1" height="34" fill="#089981"/>
<rect x="1498" y="86" width="5" height="3" fill="#089981"/>
<rect x="1506" y="76" width="1" height="48" fill="#f23645"/>
<rect x="1504" y="76" width="5" height="46" fill="#f23645"/>
<rect x="1513" y="108" width="1" height="17" fill="#089981"/>
<rect x="1511" y="113" width="5" height="12" fill="#089981"/>
<rect x="1519" y="103" width="1" height="23" fill="#089981"/>
<rect x="1517" y="111" width="5" height="4" fill="#089981"/>
<rect x="1525" y="96" width="1" height="21" fill="#089981"/>
<rect x="1523" y="96" width="5" height="18" fill="#089981"/>
<rect x="1532" y="93" width="1" height="20" fill="#f23645"/>
<rect x="1530" y="96" width="5" height="10" fill="#f23645"/>
<rect x="1538" y="88" width="1" height="23" fill="#089981"/>
<rect x="1536" y="93" width="5" height="12" fill="#089981"/>
<rect x="1544" y="91" width="1" height="30" fill="#f23645"/>
<rect x="1542" y="94" width="5" height="22" fill="#f23645"/>
<rect x="1551" y="109" width="1" height="33" fill="#f23645"/>
<rect x="1549" y="111" width="5" height="23" fill="#f23645"/>
<rect x="1557" y="124" width="1" height="35" fill="#f23645"/>
<rect x="1555" y="136" width="5" height="17" fill="#f23645"/>
<line x1="10" y1="153.5" x2="1623" y2="153.5" stroke="#f23645" stroke-width="1" stroke-dasharray="1 2"/>
<line x1="1500" y1="67.5" x2="1623" y2="67.5" stroke="#000" stroke-width="1"/>
<line x1="1412" y1="159.5" x2="1623" y2="159.5" stroke="#000" stroke-width="1"/>
<line x1="1298" y1="240.5" x2="1623" y2="240.5" stroke="#000" stroke-width="1"/>
</g>
<g clip-path="url(#rc)">
<path d="M6.9 622.0 L13.2 616.4 L19.5 621.8 L25.8 618.5 L32.1 607.3 L38.4 602.1 L44.7 612.9 L51.0 645.0 L57.3 631.9 L63.6 638.3 L69.9 635.2 L76.2 621.1 L82.5 630.0 L88.8 644.6 L95.1 638.7 L101.4 646.2 L107.7 639.9 L114.0 638.4 L120.3 671.3 L126.6 656.5 L132.9 655.1 L139.2 650.2 L145.5 668.9 L151.8 673.7 L158.1 676.5 L164.4 688.1 L170.7 692.9 L177.0 684.7 L183.3 695.7 L189.6 705.5 L195.9 702.9 L202.2 679.6 L208.5 677.5 L214.8 680.5 L221.1 659.8 L227.4 646.7 L233.7 642.5 L240.0 654.5 L246.3 649.2 L252.6 633.5 L258.9 638.5 L265.2 645.2 L271.5 625.0 L277.8 626.3 L284.1 623.2 L290.4 622.5 L296.7 623.0 L303.0 613.8 L309.3 607.3 L315.6 636.5 L321.9 633.6 L328.2 638.1 L334.5 658.6 L340.8 653.2 L347.1 632.6 L353.4 637.4 L359.7 653.1 L366.0 665.4 L372.3 683.5 L378.6 689.5 L384.9 677.5 L391.2 688.6 L397.5 700.8 L403.8 697.5 L410.1 674.5 L416.4 674.1 L422.7 662.9 L429.0 664.6 L435.3 642.8 L441.6 659.3 L447.9 654.8 L454.2 657.3 L460.5 671.9 L466.8 665.4 L473.1 670.1 L479.4 660.1 L485.7 677.9 L492.0 696.3 L498.3 701.3 L504.6 699.0 L510.9 673.8 L517.2 650.5 L523.5 653.8 L529.8 655.3 L536.1 660.7 L542.4 655.1 L548.7 665.5 L555.0 675.4 L561.3 686.2 L567.6 677.3 L573.9 680.3 L580.2 677.3 L586.5 678.8 L592.8 669.7 L599.1 664.5 L605.4 651.9 L611.7 634.6 L618.0 656.8 L624.3 646.2 L630.6 664.0 L636.9 645.4 L643.2 637.5 L649.5 646.4 L655.8 638.3 L662.1 623.9 L668.4 621.8 L674.7 632.0 L681.0 637.4 L687.3 637.8 L693.6 619.3 L699.9 629.2 L706.2 628.6 L712.5 614.8 L718.8 636.6 L725.1 639.8 L731.4 644.8 L737.7 635.4 L744.0 667.3 L750.3 685.3 L756.6 692.9 L762.9 701.8 L769.2 671.8 L775.5 685.9 L781.8 681.3 L788.1 672.6 L794.4 665.1 L800.7 677.7 L807.0 666.1 L813.3 665.3 L819.6 670.2 L825.9 666.2 L832.2 652.3 L838.5 650.9 L844.8 639.1 L851.1 645.6 L857.4 646.6 L863.7 648.2 L870.0 624.3 L876.3 632.0 L882.7 648.8 L889.0 655.8 L895.3 647.6 L901.6 627.5 L907.9 625.3 L914.2 609.2 L920.5 605.0 L926.8 626.0 L933.1 635.1 L939.4 637.6 L945.7 637.7 L952.0 638.1 L958.3 647.6 L964.6 642.1 L970.9 647.4 L977.2 637.0 L983.5 623.3 L989.8 622.6 L996.1 630.7 L1002.4 641.3 L1008.7 650.3 L1015.0 633.2 L1021.3 649.4 L1027.6 635.1 L1033.9 622.4 L1040.2 623.5 L1046.5 628.5 L1052.8 624.9 L1059.1 634.9 L1065.4 632.2 L1071.7 618.4 L1078.0 643.8 L1084.3 646.8 L1090.6 633.1 L1096.9 627.0 L1103.2 615.1 L1109.5 621.7 L1115.8 610.9 L1122.1 614.2 L1128.4 611.7 L1134.7 623.0 L1141.0 634.8 L1147.3 653.6 L1153.6 629.1 L1159.9 639.3 L1166.2 623.6 L1172.5 618.8 L1178.8 626.0 L1185.1 631.4 L1191.4 625.5 L1197.7 635.3 L1204.0 623.8 L1210.3 638.1 L1216.6 627.6 L1222.9 624.5 L1229.2 638.0 L1235.5 645.0 L1241.8 635.9 L1248.1 642.0 L1254.4 646.6 L1260.7 646.6 L1267.0 650.9 L1273.3 655.3 L1279.6 634.9 L1285.9 680.5 L1292.2 684.1 L1298.5 669.9 L1304.8 662.3 L1311.1 649.3 L1317.4 637.6 L1323.7 635.6 L1330.0 628.4 L1336.3 623.1 L1342.6 625.6 L1348.9 633.3 L1355.2 630.5 L1361.5 639.6 L1367.8 655.9 L1374.1 643.8 L1380.4 647.4 L1386.7 647.4 L1393.0 650.1 L1399.3 644.2 L1405.6 653.5 L1411.9 652.0 L1418.2 637.0 L1424.5 651.2 L1430.8 643.1 L1437.1 636.5 L1443.4 644.6 L1449.7 632.8 L1456.0 641.7 L1462.3 638.8 L1468.6 632.6 L1474.9 625.3 L1481.2 621.4 L1487.5 637.7 L1493.8 628.7 L1500.1 623.3 L1506.4 654.4 L1512.7 647.6 L1519.0 646.1 L1525.3 635.2 L1531.6 643.9 L1537.9 634.5 L1544.2 653.6 L1550.5 666.6 L1556.8 679.9" fill="none" stroke="#7e57c2" stroke-width="2.15" stroke-linejoin="round" stroke-linecap="round"/>
</g>
<text x="1631.5" y="551.0" font-family="Liberation Sans, sans-serif" font-size="12.5" fill="#131722" textLength="39" lengthAdjust="spacingAndGlyphs">184.00</text>
<text x="1631.5" y="495.0" font-family="Liberation Sans, sans-serif" font-size="12.5" fill="#131722" textLength="39" lengthAdjust="spacingAndGlyphs">186.00</text>
<text x="1631.5" y="440.0" font-family="Liberation Sans, sans-serif" font-size="12.5" fill="#131722" textLength="39" lengthAdjust="spacingAndGlyphs">188.00</text>
<text x="1631.5" y="385.0" font-family="Liberation Sans, sans-serif" font-size="12.5" fill="#131722" textLength="39" lengthAdjust="spacingAndGlyphs">190.00</text>
<text x="1631.5" y="329.0" font-family="Liberation Sans, sans-serif" font-size="12.5" fill="#131722" textLength="39" lengthAdjust="spacingAndGlyphs">192.00</text>
<text x="1631.5" y="274.0" font-family="Liberation Sans, sans-serif" font-size="12.5" fill="#131722" textLength="39" lengthAdjust="spacingAndGlyphs">194.00</text>
<text x="1631.5" y="218.0" font-family="Liberation Sans, sans-serif" font-size="12.5" fill="#131722" textLength="39" lengthAdjust="spacingAndGlyphs">196.00</text>
<text x="1631.5" y="163.0" font-family="Liberation Sans, sans-serif" font-size="12.5" fill="#131722" textLength="39" lengthAdjust="spacingAndGlyphs">198.00</text>
<text x="1631.5" y="107.0" font-family="Liberation Sans, sans-serif" font-size="12.5" fill="#131722" textLength="39" lengthAdjust="spacingAndGlyphs">200.00</text>
<text x="1631.5" y="52.0" font-family="Liberation Sans, sans-serif" font-size="12.5" fill="#131722" textLength="39" lengthAdjust="spacingAndGlyphs">202.00</text>
<text x="1631.5" y="629.8" font-family="Liberation Sans, sans-serif" font-size="12.5" fill="#131722" textLength="32" lengthAdjust="spacingAndGlyphs">60.00</text>
<path d="M1623 58.51 H1674 a2 2 0 0 1 2 2 V75.31 a2 2 0 0 1 -2 2 H1623 Z" fill="#000000"/>
<text x="1631.5" y="72.4" font-family="Liberation Sans, sans-serif" font-size="12.5" fill="#ffffff" stroke="#ffffff" stroke-width="0.28" textLength="39" lengthAdjust="spacingAndGlyphs">201.27</text>
<path d="M1623 120.80 H1674 a2 2 0 0 1 2 2 V137.60 a2 2 0 0 1 -2 2 H1623 Z" fill="#ff6d00"/>
<text x="1631.5" y="134.7" font-family="Liberation Sans, sans-serif" font-size="12.5" fill="#ffffff" stroke="#ffffff" stroke-width="0.28" textLength="39" lengthAdjust="spacingAndGlyphs">198.99</text>
<path d="M1623 144.20 H1674 a2 2 0 0 1 2 2 V161.00 a2 2 0 0 1 -2 2 H1623 Z" fill="#f23645"/>
<text x="1631.5" y="158.1" font-family="Liberation Sans, sans-serif" font-size="12.5" fill="#ffffff" stroke="#ffffff" stroke-width="0.28" textLength="39" lengthAdjust="spacingAndGlyphs">198.17</text>
<path d="M1623 162.90 H1674 a2 2 0 0 1 2 2 V179.70 a2 2 0 0 1 -2 2 H1623 Z" fill="#000000"/>
<text x="1631.5" y="176.8" font-family="Liberation Sans, sans-serif" font-size="12.5" fill="#ffffff" stroke="#ffffff" stroke-width="0.28" textLength="39" lengthAdjust="spacingAndGlyphs">197.95</text>
<path d="M1623 180.20 H1674 a2 2 0 0 1 2 2 V197.00 a2 2 0 0 1 -2 2 H1623 Z" fill="#2196f3"/>
<text x="1631.5" y="194.1" font-family="Liberation Sans, sans-serif" font-size="12.5" fill="#ffffff" stroke="#ffffff" stroke-width="0.28" textLength="39" lengthAdjust="spacingAndGlyphs">197.66</text>
<path d="M1623 231.50 H1674 a2 2 0 0 1 2 2 V248.30 a2 2 0 0 1 -2 2 H1623 Z" fill="#000000"/>
<text x="1631.5" y="245.4" font-family="Liberation Sans, sans-serif" font-size="12.5" fill="#ffffff" stroke="#ffffff" stroke-width="0.28" textLength="39" lengthAdjust="spacingAndGlyphs">195.04</text>
<path d="M1623 249.90 H1674 a2 2 0 0 1 2 2 V266.70 a2 2 0 0 1 -2 2 H1623 Z" fill="#22c1d6"/>
<text x="1631.5" y="263.8" font-family="Liberation Sans, sans-serif" font-size="12.5" fill="#131722" stroke="#131722" stroke-width="0.28" textLength="39" lengthAdjust="spacingAndGlyphs">194.78</text>
<path d="M1623 671.00 H1667 a2 2 0 0 1 2 2 V687.80 a2 2 0 0 1 -2 2 H1623 Z" fill="#7e57c2"/>
<text x="1631.5" y="684.9" font-family="Liberation Sans, sans-serif" font-size="12.5" fill="#ffffff" stroke="#ffffff" stroke-width="0.28" textLength="32" lengthAdjust="spacingAndGlyphs">40.32</text>
<text x="47.3" y="740" font-family="Liberation Sans, sans-serif" font-size="12.5" fill="#131722" textLength="20.4" lengthAdjust="spacingAndGlyphs">Nov</text>
<text x="180.2" y="740" font-family="Liberation Sans, sans-serif" font-size="12.5" fill="#131722" textLength="20.6" lengthAdjust="spacingAndGlyphs">Dec</text>
<text x="314.2" y="740" font-family="Liberation Sans, sans-serif" font-size="12.5" fill="#131722" font-weight="bold" textLength="28.6" lengthAdjust="spacingAndGlyphs">2025</text>
<text x="463.5" y="740" font-family="Liberation Sans, sans-serif" font-size="12.5" fill="#131722" textLength="20" lengthAdjust="spacingAndGlyphs">Feb</text>
<text x="589.2" y="740" font-family="Liberation Sans, sans-serif" font-size="12.5" fill="#131722" textLength="20.5" lengthAdjust="spacingAndGlyphs">Mar</text>
<text x="722.0" y="740" font-family="Liberation Sans, sans-serif" font-size="12.5" fill="#131722" textLength="19" lengthAdjust="spacingAndGlyphs">Apr</text>
<text x="859.8" y="740" font-family="Liberation Sans, sans-serif" font-size="12.5" fill="#131722" textLength="21.5" lengthAdjust="spacingAndGlyphs">May</text>
<text x="999.8" y="740" font-family="Liberation Sans, sans-serif" font-size="12.5" fill="#131722" textLength="19.5" lengthAdjust="spacingAndGlyphs">Jun</text>
<text x="1133.5" y="740" font-family="Liberation Sans, sans-serif" font-size="12.5" fill="#131722" textLength="16" lengthAdjust="spacingAndGlyphs">Jul</text>
<text x="1276.2" y="740" font-family="Liberation Sans, sans-serif" font-size="12.5" fill="#131722" textLength="20.5" lengthAdjust="spacingAndGlyphs">Aug</text>
<text x="1408.5" y="740" font-family="Liberation Sans, sans-serif" font-size="12.5" fill="#131722" textLength="20" lengthAdjust="spacingAndGlyphs">Sep</text>
<text x="1548.0" y="740" font-family="Liberation Sans, sans-serif" font-size="12.5" fill="#131722" textLength="19" lengthAdjust="spacingAndGlyphs">Oct</text>
<text x="17.9" y="29.6" font-family="Liberation Sans, sans-serif" font-size="12.5" fill="#131722" textLength="70" lengthAdjust="spacingAndGlyphs">GBP/JPY, 1D</text>
<text x="96.3" y="29.6" font-family="Liberation Sans, sans-serif" font-size="12.5" fill="#131722" textLength="8.5" lengthAdjust="spacingAndGlyphs">O</text>
<text x="105.2" y="29.6" font-family="Liberation Sans, sans-serif" font-size="12.5" fill="#f23645" textLength="36.6" lengthAdjust="spacingAndGlyphs">198.79</text>
<text x="150" y="29.6" font-family="Liberation Sans, sans-serif" font-size="12.5" fill="#131722" textLength="8" lengthAdjust="spacingAndGlyphs">H</text>
<text x="158.7" y="29.6" font-family="Liberation Sans, sans-serif" font-size="12.5" fill="#f23645" textLength="36.4" lengthAdjust="spacingAndGlyphs">199.22</text>
<text x="204" y="29.6" font-family="Liberation Sans, sans-serif" font-size="12.5" fill="#131722" textLength="6" lengthAdjust="spacingAndGlyphs">L</text>
<text x="210.2" y="29.6" font-family="Liberation Sans, sans-serif" font-size="12.5" fill="#f23645" textLength="36.6" lengthAdjust="spacingAndGlyphs">197.93</text>
<text x="255" y="29.6" font-family="Liberation Sans, sans-serif" font-size="12.5" fill="#131722" textLength="8" lengthAdjust="spacingAndGlyphs">C</text>
<text x="263.7" y="29.6" font-family="Liberation Sans, sans-serif" font-size="12.5" fill="#f23645" textLength="36.2" lengthAdjust="spacingAndGlyphs">198.17</text>
<text x="308.5" y="29.6" font-family="Liberation Sans, sans-serif" font-size="12.5" fill="#f23645" textLength="30" lengthAdjust="spacingAndGlyphs">−0.72</text>
<text x="343.3" y="29.6" font-family="Liberation Sans, sans-serif" font-size="12.5" fill="#f23645" textLength="46" lengthAdjust="spacingAndGlyphs">(−0.36%)</text>
<text x="17.9" y="47.4" font-family="Liberation Sans, sans-serif" font-size="12.5" fill="#131722" textLength="251.3" lengthAdjust="spacingAndGlyphs">Moving Average Triple (50, 100, 200, Simple)</text>
<text x="278.1" y="47.4" font-family="Liberation Sans, sans-serif" font-size="12.5" fill="#ff6d00" textLength="36.6" lengthAdjust="spacingAndGlyphs">198.99</text>
<text x="323.4" y="47.4" font-family="Liberation Sans, sans-serif" font-size="12.5" fill="#2196f3" textLength="36.6" lengthAdjust="spacingAndGlyphs">197.66</text>
<text x="368.7" y="47.4" font-family="Liberation Sans, sans-serif" font-size="12.5" fill="#22c1d6" textLength="36.8" lengthAdjust="spacingAndGlyphs">194.78</text>
<text x="18.5" y="603" font-family="Liberation Sans, sans-serif" font-size="12.5" fill="#131722" textLength="42" lengthAdjust="spacingAndGlyphs">RSI (14)</text>
<text x="69.2" y="603" font-family="Liberation Sans, sans-serif" font-size="12.5" fill="#7e57c2" textLength="30.3" lengthAdjust="spacingAndGlyphs">40.32</text>
<rect x="10" y="10" width="1669" height="740" fill="none" stroke="#e9ebf3" stroke-width="1.6"/>
</svg>
</body></html>
